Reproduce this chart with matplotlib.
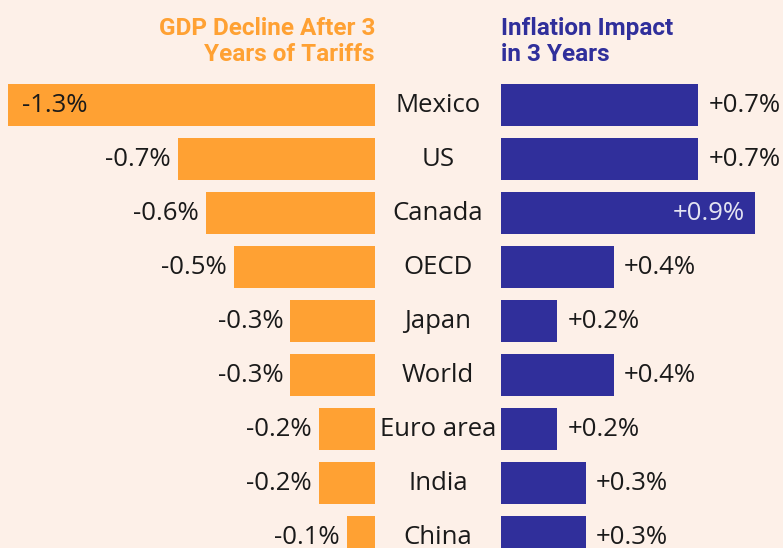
import numpy as np
import matplotlib.pyplot as plt

# Data
countries = ['Mexico', 'US', 'Canada', 'OECD', 'Japan', 'World', 'Euro area', 'India', 'China']
gdp = [-1.3, -0.7, -0.6, -0.5, -0.3, -0.3, -0.2, -0.2, -0.1]
inflation = [0.7, 0.7, 0.9, 0.4, 0.2, 0.4, 0.2, 0.3, 0.3]

bg = '#fdf0e8'
orange = '#ffa133'
blue = '#302f9b'
scale = 282.0  # pixels per 1 percentage point

fig = plt.figure(figsize=(7.83, 5.48), dpi=100, facecolor=bg)
ax = fig.add_axes([0, 0, 1, 1])
ax.set_facecolor(bg)
ax.set_xlim(0, 783 / scale)
ax.set_ylim((548 - 105) / 54, -105 / 54)
ax.axis('off')

y = np.arange(len(countries))
left_end = 375 / scale
right_start = 501 / scale
mid = 438 / scale

ax.barh(y, gdp, left=left_end, height=0.78, color=orange)
ax.barh(y, inflation, left=right_start, height=0.78, color=blue)

font = 'Open Sans'
fs = 18.5
for i, c in enumerate(countries):
    ax.text(mid, i, c, ha='center', va='center', fontsize=fs, family=font, color='#1a1a1a')

    g = gdp[i]
    if abs(g) > 1.0:
        ax.text(left_end + g + 14 / scale, i, f'{g:.1f}%', ha='left', va='center',
                fontsize=fs, family=font, color='#1a1a1a')
    else:
        ax.text(left_end + g - 7 / scale, i, f'{g:.1f}%', ha='right', va='center',
                fontsize=fs, family=font, color='#1a1a1a')

    v = inflation[i]
    if v >= 0.9:
        ax.text(right_start + v - 10 / scale, i, f'+{v:.1f}%', ha='right', va='center',
                fontsize=fs, family=font, color='#e4e4f2')
    else:
        ax.text(right_start + v + 10 / scale, i, f'+{v:.1f}%', ha='left', va='center',
                fontsize=fs, family=font, color='#1a1a1a')

ax.text(left_end, -1.18, 'GDP Decline After 3\nYears of Tariffs', ha='right', va='center',
        fontsize=17.5, family='Roboto', fontweight='bold', color=orange, linespacing=1.15)
ax.text(right_start, -1.18, 'Inflation Impact\nin 3 Years', ha='left', va='center',
        fontsize=17.5, family='Roboto', fontweight='bold', color=blue, linespacing=1.15)

fig.savefig('out.png', dpi=100, facecolor=bg)
